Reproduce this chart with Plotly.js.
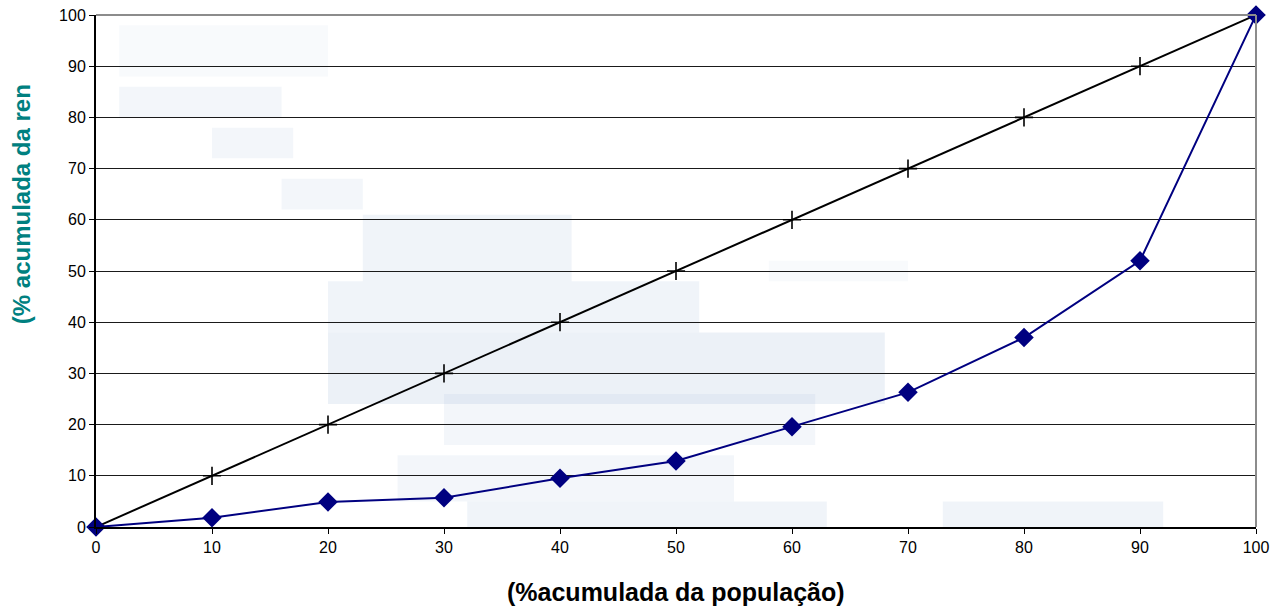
<!DOCTYPE html>
<html>
<head>
<meta charset="utf-8">
<script src="https://cdn.plot.ly/plotly-3.0.1.min.js"></script>
<style>
  html, body { margin: 0; padding: 0; background: #ffffff; }
  #chart { width: 1277px; height: 612px; }
</style>
</head>
<body>
<div id="chart"></div>
<script>
// Cumulative population share (%)
const populationPct = [0, 10, 20, 30, 40, 50, 60, 70, 80, 90, 100];
// Line of perfect equality
const equalityPct = [0, 10, 20, 30, 40, 50, 60, 70, 80, 90, 100];
// Lorenz curve: cumulative income share (%)
const incomePct = [0, 1.8, 4.9, 5.7, 9.5, 12.9, 19.6, 26.3, 37.0, 52.0, 100];
const tickVals = [0, 10, 20, 30, 40, 50, 60, 70, 80, 90, 100];

const FONT = 'Liberation Sans, Arial, sans-serif';

// Faint decorative blocks behind the plot (pale blue wash)
const washes = [
  [2, 20, 88, 98, 0.07], [2, 16, 80, 86, 0.13], [10, 17, 72, 78, 0.13],
  [16, 23, 62, 68, 0.13], [23, 41, 48, 61, 0.16], [20, 52, 38, 48, 0.16],
  [20, 68, 24, 38, 0.20], [30, 62, 16, 26, 0.13], [26, 55, 5, 14, 0.13],
  [32, 63, -4, 5, 0.16], [31, 52, -17, -4, 0.12], [73, 92, -17, 5, 0.16],
  [58, 70, 48, 52, 0.07]
];
const shapes = washes.map(w => ({
  type: 'rect', xref: 'x', yref: 'y', layer: 'below',
  x0: w[0], x1: w[1], y0: w[2], y1: w[3],
  fillcolor: '#9fb8d8', opacity: w[4], line: { width: 0 }
}));

const traces = [
  {
    x: populationPct, y: equalityPct, type: 'scatter', mode: 'lines+markers',
    cliponaxis: false,
    line: { color: '#000000', width: 2 },
    marker: { symbol: 'cross-thin', size: 13, line: { color: '#000000', width: 1.6 } },
    hoverinfo: 'x+y'
  },
  {
    x: populationPct, y: incomePct, type: 'scatter', mode: 'lines+markers',
    cliponaxis: false,
    line: { color: '#000080', width: 2 },
    marker: { symbol: 'diamond', size: 15, color: '#000080' },
    hoverinfo: 'x+y'
  }
];

const layout = {
  width: 1277, height: 612,
  margin: { l: 96, r: 21, t: 15, b: 85 },
  paper_bgcolor: '#ffffff', plot_bgcolor: 'rgba(0,0,0,0)',
  showlegend: false,
  font: { family: FONT, size: 16, color: '#000000' },
  xaxis: {
    range: [0, 100], tickvals: tickVals, ticktext: tickVals.map(String),
    showgrid: false, zeroline: false,
    showline: true, linecolor: '#000000', linewidth: 2,
    ticks: 'outside', ticklen: 5, tickcolor: '#000000', tickwidth: 1,
    tickfont: { family: FONT, size: 16 }, fixedrange: true
  },
  yaxis: {
    range: [0, 100], tickvals: tickVals, ticktext: tickVals.map(String),
    showgrid: true, gridcolor: '#1a1a1a', gridwidth: 1, zeroline: false,
    showline: true, linecolor: '#000000', linewidth: 2,
    ticks: 'outside', ticklen: 5, tickcolor: '#000000', tickwidth: 1,
    tickfont: { family: FONT, size: 16 }, fixedrange: true
  },
  shapes: shapes.concat([
    // light frame on the top and right of the plot area
    { type: 'line', xref: 'paper', yref: 'paper', x0: 0, x1: 1, y0: 1, y1: 1,
      line: { color: '#8c8c8c', width: 2 } },
    { type: 'line', xref: 'paper', yref: 'paper', x0: 1, x1: 1, y0: 0, y1: 1,
      line: { color: '#8c8c8c', width: 2 } }
  ]),
  annotations: [
    {
      text: '<b>(%acumulada da população)</b>', xref: 'paper', yref: 'paper',
      x: 0.5, y: -0.127, xanchor: 'center', yanchor: 'middle', showarrow: false,
      font: { size: 25, color: '#000000', family: FONT }
    },
    {
      text: '<b>(% acumulada da ren</b>', xref: 'paper', yref: 'paper',
      x: -0.064, y: 0.63, xanchor: 'center', yanchor: 'middle', showarrow: false,
      textangle: -90,
      font: { size: 24, color: '#008080', family: FONT }
    }
  ]
};

Plotly.newPlot('chart', traces, layout, { displayModeBar: false, staticPlot: true });
</script>
</body>
</html>
